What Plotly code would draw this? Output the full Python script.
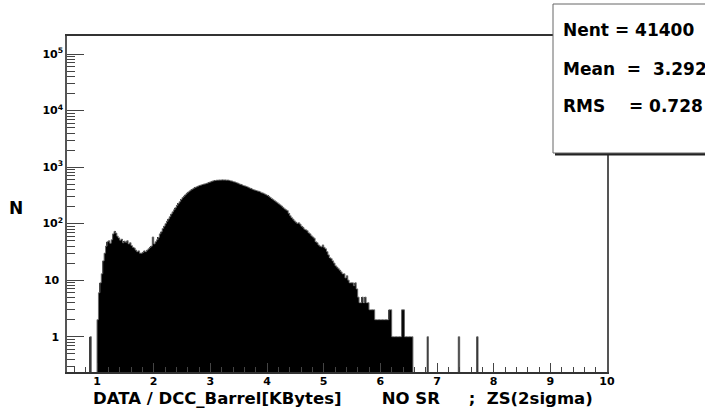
import plotly.graph_objects as go

# ---------------- data ----------------
bin_width = 0.025
bin_start = 1.0
counts = [
    2, 6, 9, 13, 22, 30, 40, 48,
    50, 45, 52, 66, 73, 68, 60, 56,
    51, 53, 46, 49, 47, 50, 44, 46,
    41, 38, 37, 34, 32, 33, 30, 30,
    31, 33, 32, 34, 36, 38, 40, 58,
    44, 48, 52, 57, 66, 72, 82, 90,
    100, 110, 121, 133, 148, 162, 176, 192,
    210, 228, 245, 268, 290, 305, 325, 345,
    362, 380, 395, 410, 424, 438, 450, 462,
    474, 482, 492, 500, 508, 516, 528, 540,
    552, 565, 575, 580, 586, 588, 592, 590,
    596, 592, 594, 588, 590, 582, 572, 565,
    552, 545, 532, 520, 505, 495, 485, 472,
    465, 455, 445, 432, 420, 410, 400, 392,
    385, 378, 372, 362, 352, 345, 335, 325,
    315, 303, 290, 278, 266, 255, 244, 234,
    224, 214, 204, 193, 183, 176, 170, 152,
    138, 128, 120, 112, 106, 101, 104, 98,
    90, 86, 80, 78, 75, 69, 66, 61,
    58, 55, 48, 46, 42, 40, 39, 42,
    38, 36, 32, 28, 25, 24, 22, 20,
    18, 17, 16, 15, 14, 13, 13, 11,
    12, 10, 9, 9, 9, 8, 9, 7,
    5, 4, 4, 5, 4, 5, 4, 4,
    3, 3, 3, 3, 2, 2, 2, 2,
    2, 2, 2, 2, 2, 2, 3, 3,
    1, 1, 1, 1, 1, 1, 1, 3,
    3, 1, 1, 1, 1, 1, 1,
]
isolated_lo = [0.875, 6.825, 7.375, 7.7]
isolated_counts = [1, 1, 1, 1]

x_ticks = [1, 2, 3, 4, 5, 6, 7, 8, 9, 10]
y_ticks = [1, 10, 100, 1000, 10000, 100000]
y_ticktext = ["1\u00a0", "10\u00a0", "10<sup>2</sup>", "10<sup>3</sup>", "10<sup>4</sup>", "10<sup>5</sup>"]

stats_lines = ["Nent = 41400", "Mean\u00a0\u00a0=\u00a0\u00a03.292", "RMS\u00a0\u00a0\u00a0\u00a0= 0.728"]
x_title = ("DATA / DCC_Barrel[KBytes]" + "\u00a0" * 7 + "NO SR" + "\u00a0" * 5 + ";" + "\u00a0" * 2 + "ZS(2sigma)")
y_title = "N"

# ---------------- build full histogram ----------------
n_bins = 400  # 0..10
full = [0] * n_bins
for i, c in enumerate(counts):
    k = int(round((bin_start + i * bin_width) / bin_width))
    full[k] += c
for lo, c in zip(isolated_lo, isolated_counts):
    k = int(round(lo / bin_width))
    full[k] += c

centers = [(k + 0.5) * bin_width for k in range(n_bins)]
bar_y = [v if v > 0 else None for v in full]
edges = [k * bin_width for k in range(n_bins + 1)]
outline_y = [v if v > 0 else 0.05 for v in full] + [0.05]

# ---------------- figure ----------------
W, H = 705, 410
L, R, T, B = 67, 98, 36, 38
pw, ph = W - L - R, H - T - B


def px(xp):
    return (xp - L) / pw


def py(yp):
    return (H - B - yp) / ph


fig = go.Figure()
fig.add_trace(go.Bar(x=centers, y=bar_y, width=bin_width,
                     marker=dict(color="black", line=dict(width=0)),
                     hoverinfo="skip", showlegend=False))
fig.add_trace(go.Scatter(x=edges, y=outline_y, mode="lines",
                         line=dict(color="#707070", width=1, shape="hv"),
                         hoverinfo="skip", showlegend=False))

bold = dict(family="DejaVu Sans", color="black", weight="bold")

minor_y = []
for d in [0.1, 1, 10, 100, 1000, 10000]:
    for m in range(2, 10):
        minor_y.append(m * d)

fig.update_layout(
    width=W, height=H,
    margin=dict(l=L, r=R, t=T, b=B, pad=0),
    paper_bgcolor="white", plot_bgcolor="white",
    bargap=0, showlegend=False,
    xaxis=dict(range=[0.47, 10], tickmode="array", tickvals=x_ticks,
               ticktext=[str(v) for v in x_ticks],
               ticks="inside", ticklen=9, tickwidth=1, tickcolor="#444",
               minor=dict(dtick=0.2, tick0=0, ticks="inside", ticklen=5,
                          tickwidth=1, tickcolor="#444", showgrid=False),
               showline=True, linecolor="#333", linewidth=1.5, mirror=True,
               showgrid=False, zeroline=False, ticklabelstandoff=-2,
               tickfont=dict(size=11, **bold)),
    yaxis=dict(type="log", range=[-0.625, 5.32], tickmode="array",
               tickvals=y_ticks, ticktext=y_ticktext,
               ticks="inside", ticklen=17, tickwidth=1, tickcolor="#444",
               minor=dict(tickmode="array", tickvals=minor_y, ticks="inside",
                          ticklen=8, tickwidth=1, tickcolor="#444", showgrid=False),
               showline=True, linecolor="#555", linewidth=1.5, mirror=True,
               showgrid=False, zeroline=False,
               tickfont=dict(size=11, **bold)),
)

# stats box (shadow + box)
fig.add_shape(type="rect", xref="paper", yref="paper",
              x0=px(555), x1=px(740), y0=py(155.5), y1=py(6),
              fillcolor="#222", line=dict(width=0), layer="above")
fig.add_shape(type="rect", xref="paper", yref="paper",
              x0=px(553), x1=px(740), y0=py(153), y1=py(4),
              fillcolor="white", line=dict(color="#666", width=1), layer="above")
for txt, yc in zip(stats_lines, [30, 69, 106]):
    fig.add_annotation(text=txt, xref="paper", yref="paper", x=px(561), y=py(yc),
                       xanchor="left", yanchor="middle", showarrow=False,
                       font=dict(size=17, **bold))

fig.add_annotation(text=x_title, xref="paper", yref="paper", x=px(91), y=py(398),
                   xanchor="left", yanchor="middle", showarrow=False,
                   font=dict(size=16.5, **bold))
fig.add_annotation(text=y_title, xref="paper", yref="paper", x=px(16), y=py(208),
                   xanchor="center", yanchor="middle", showarrow=False,
                   font=dict(size=17, **bold))

fig.write_html("out.html", config={"displayModeBar": False},
               post_script="document.body.style.margin='0px';")
